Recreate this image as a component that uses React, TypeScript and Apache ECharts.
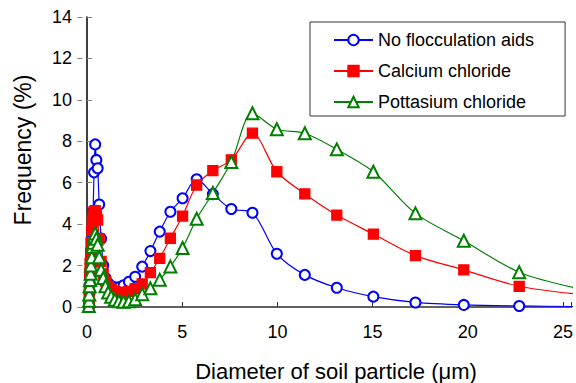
import React, { useEffect, useRef } from "react";
import * as echarts from "echarts";

const diameters = [
  0.095, 0.11, 0.12, 0.14, 0.16, 0.19, 0.21, 0.25, 0.28, 0.32, 0.37, 0.43, 0.49,
  0.56, 0.64, 0.74, 0.85, 0.97, 1.11, 1.27, 1.46, 1.68, 1.92, 2.2, 2.53, 2.9,
  3.33, 3.82, 4.38, 5.02, 5.76, 6.61, 7.58, 8.69, 9.97, 11.44, 13.12, 15.04,
  17.25, 19.79, 22.7, 26.0,
];

const noFlocculation = [
  0.0, 0.1, 0.3, 0.7, 1.1, 1.5, 2.0, 2.7, 3.6, 4.6, 6.5, 7.85, 7.1, 6.7, 4.95,
  3.3, 2.0, 1.4, 1.15, 1.0, 0.95, 0.95, 1.05, 1.22, 1.46, 1.95, 2.7, 3.64, 4.6,
  5.25, 6.17, 5.45, 4.73, 4.55, 2.57, 1.55, 0.93, 0.5, 0.22, 0.1, 0.05, 0.02,
];

const calciumChloride = [
  0.1, 0.4, 0.9, 1.6, 2.1, 2.6, 3.1, 3.7, 4.1, 4.4, 4.6, 4.65, 4.5, 4.2, 3.3,
  2.2, 1.6, 1.25, 1.0, 0.85, 0.75, 0.7, 0.7, 0.75, 0.88, 1.11, 1.66, 2.35, 3.32,
  4.39, 5.89, 6.58, 7.1, 8.39, 6.53, 5.46, 4.44, 3.52, 2.48, 1.79, 1.0, 0.6,
];

const potassiumChloride = [
  0.05, 0.3, 0.6, 1.0, 1.3, 1.6, 2.0, 2.4, 2.9, 3.1, 3.4, 3.55, 3.3, 3.0, 2.4,
  1.8, 1.4, 1.0, 0.7, 0.5, 0.35, 0.28, 0.25, 0.28, 0.37, 0.62, 0.9, 1.32, 1.95,
  2.85, 4.26, 5.5, 7.0, 9.35, 8.58, 8.39, 7.61, 6.53, 4.52, 3.2, 1.68, 0.85,
];

const seriesNames = ["No flocculation aids", "Calcium chloride", "Pottasium chloride"];
const xTitle = "Diameter of soil particle (\u03bcm)";
const yTitle = "Frequency (%)";

const FONT = "'Liberation Sans', Arial, sans-serif";

function pairs(ys: number[]) {
  return diameters.map((x, i) => [x, ys[i]]);
}

export default function App() {
  const ref = useRef<HTMLDivElement>(null);

  useEffect(() => {
    if (!ref.current) return;
    const chart = echarts.init(ref.current, undefined, { renderer: "svg" });
    const gridLeft = 87;
    const gridRight = 0;
    const gridWidth = 576 - gridLeft - gridRight;

    const yCommon = {
      type: "value",
      min: 0,
      max: 14,
      interval: 2,
      splitLine: { show: false },
    };

    const mk = (name: string, data: number[], color: string, symbol: string, size: number) => ({
      name,
      type: "line",
      data: pairs(data),
      smooth: 0.3,
      symbol,
      symbolSize: size,
      showAllSymbol: true,
      clip: true,
      lineStyle: { color, width: 1.2 },
      itemStyle: { color, borderColor: color, borderWidth: 1.3 },
      emphasis: { disabled: true },
    });

    chart.setOption({
      animation: false,
      textStyle: { fontFamily: FONT },
      grid: { left: gridLeft, right: gridRight, top: 17, bottom: 76 },
      xAxis: {
        type: "value",
        min: 0,
        max: 25.44,
        interval: 5,
        axisLine: { lineStyle: { color: "#606060", width: 2 } },
        axisTick: { inside: true, length: 5, lineStyle: { color: "#303030" } },
        axisLabel: {
          fontSize: 18,
          color: "#000",
          margin: 16,
          fontFamily: FONT,
          formatter: (v: number) => (Math.abs(v % 5) < 1e-9 ? String(v) : ""),
        },
        splitLine: { show: false },
      },
      yAxis: [
        {
          ...yCommon,
          position: "left",
          axisLine: { show: true, lineStyle: { color: "#000", width: 1.5 } },
          axisTick: { show: true, inside: true, length: 5, lineStyle: { color: "#808080" } },
          axisLabel: { fontSize: 18, color: "#000", margin: 15, fontFamily: FONT },
        },
        {
          ...yCommon,
          position: "right",
          offset: -gridWidth,
          axisLine: { show: false },
          axisTick: { show: true, inside: true, length: 5, lineStyle: { color: "#808080" } },
          axisLabel: { show: false },
        },
      ],
      legend: {
        orient: "vertical",
        left: 310,
        top: 22,
        data: seriesNames,
        borderColor: "#333",
        borderWidth: 1,
        padding: [9, 31, 5, 23],
        itemGap: 13,
        itemWidth: 39,
        itemHeight: 13,
        textStyle: { fontSize: 18, color: "#000", fontFamily: FONT },
        selectedMode: false,
      },
      graphic: [
        {
          type: "text",
          x: 23,
          y: 150,
          rotation: Math.PI / 2,
          style: {
            text: yTitle,
            fontSize: 23,
            fontFamily: FONT,
            fill: "#000",
            textAlign: "center",
            textVerticalAlign: "middle",
          },
        },
        {
          type: "text",
          x: 336,
          y: 371,
          style: {
            text: xTitle,
            fontSize: 22,
            fontFamily: FONT,
            fill: "#000",
            textAlign: "center",
            textVerticalAlign: "middle",
          },
        },
      ],
      series: [
        mk(seriesNames[0], noFlocculation, "#0000ff", "emptyCircle", 10),
        mk(seriesNames[1], calciumChloride, "#ff0000", "rect", 10),
        mk(seriesNames[2], potassiumChloride, "#008000", "emptyTriangle", 12),
      ],
    });

    return () => chart.dispose();
  }, []);

  return (
    <div
      ref={ref}
      style={{ position: "fixed", left: 0, top: 0, width: 576, height: 383, background: "#fff" }}
    />
  );
}
